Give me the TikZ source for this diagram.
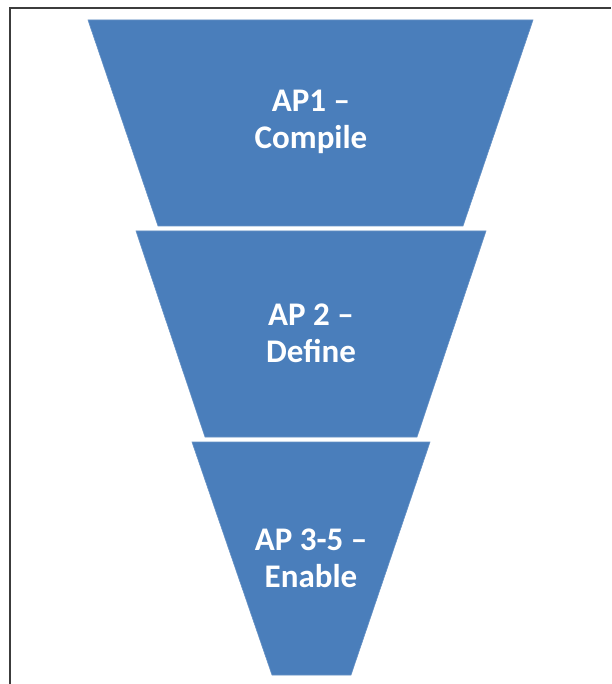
\documentclass[tikz,border=0pt]{standalone}
\usepackage{fontspec}
\setmainfont{Carlito}
\definecolor{funnelblue}{RGB}{74,126,187}
\definecolor{framegray}{RGB}{60,60,60}
\begin{document}
\begin{tikzpicture}[x=1pt,y=-1pt,
  stage/.style={fill=funnelblue,draw=funnelblue!85!white,line width=0.6pt},
  stagelabel/.style={text=white,font=\fontsize{33}{37}\selectfont\bfseries,align=center,inner sep=0pt}]
  \useasboundingbox (0,0) rectangle (611,684);
  \fill[white] (0,0) rectangle (611,684);
  % frame edges
  \draw[framegray,line width=2.4pt] (10,684) -- (10,8) -- (611,8);
  % funnel stages
  \path[stage] (88,20) -- (533,20) -- (463,226) -- (158,226) -- cycle;
  \path[stage] (136,231) -- (486,231) -- (417,437) -- (205,437) -- cycle;
  \path[stage] (192,442) -- (430,442) -- (351,675) -- (272,675) -- cycle;
  % stage labels
  \node[stagelabel] (s1) at (311,122) {AP1 –\\Compile};
  \node[stagelabel] (s2) at (311,333) {AP 2 –\\Define};
  \node[stagelabel] (s3) at (311,558) {AP 3-5 –\\Enable};
\end{tikzpicture}
\end{document}
